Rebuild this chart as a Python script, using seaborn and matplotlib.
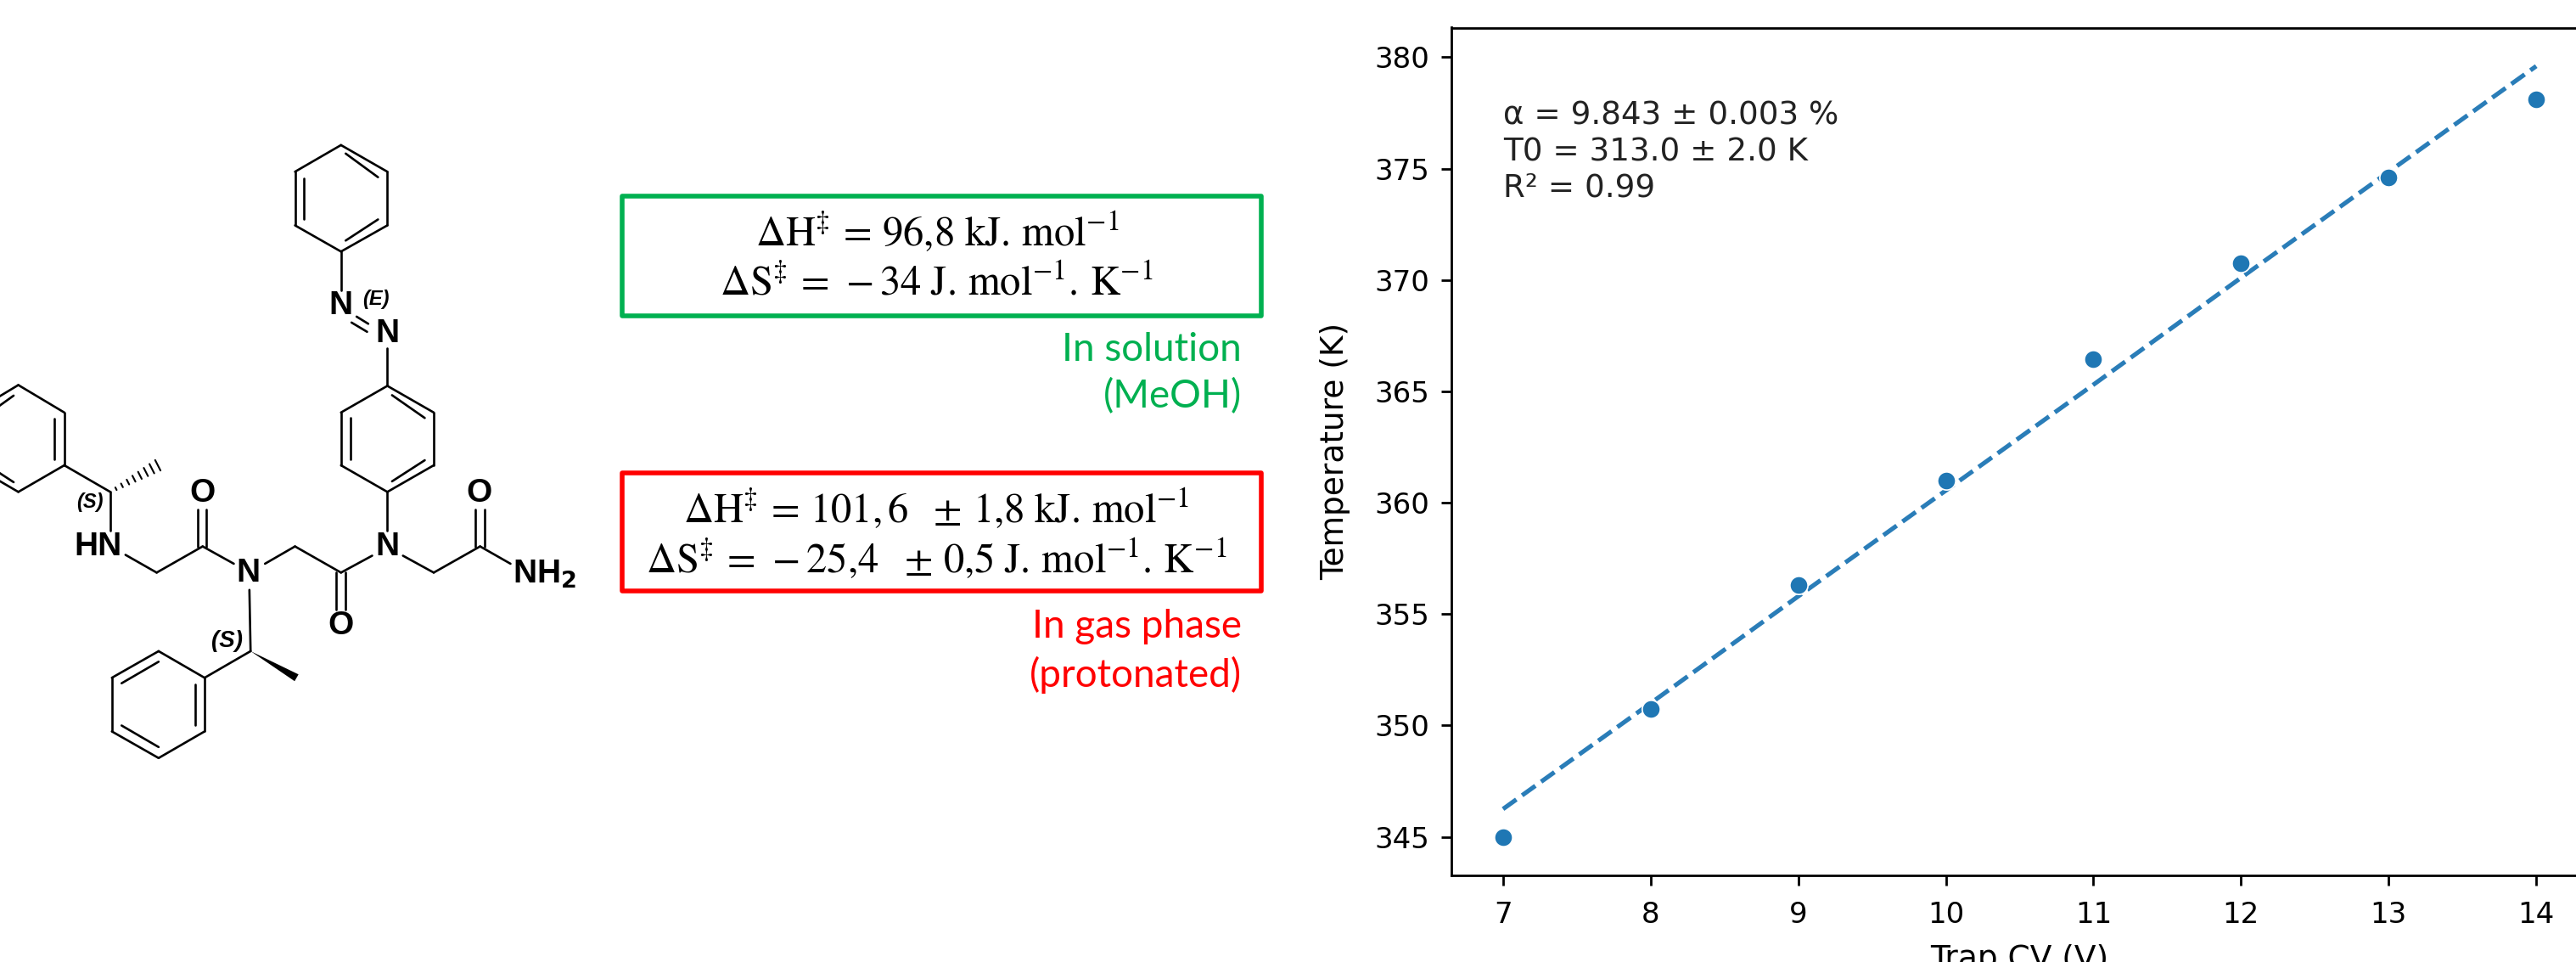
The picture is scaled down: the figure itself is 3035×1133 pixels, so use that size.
import numpy as np
import pandas as pd
import seaborn as sns
import matplotlib.pyplot as plt
from matplotlib.patches import Rectangle, Polygon

# Trap CV (V) vs temperature (K)
trap_cv = [7, 8, 9, 10, 11, 12, 13, 14]
temperature = [345.0, 350.75, 356.3, 361.0, 366.45, 370.75, 374.6, 378.1]
fit_temperature = [346.25, 351.0, 355.8, 360.55, 365.3, 370.1, 374.85, 379.6]
fit_text = 'α = 9.843 ± 0.003 %\nT0 = 313.0 ± 2.0 K\nR² = 0.99'

solution_lines = [r'$\Delta\mathrm{H}^{\ddag}\,=\,96{,}8\ \mathrm{kJ.\,mol}^{-1}$',
                  r'$\Delta\mathrm{S}^{\ddag}\,=\,-34\ \mathrm{J.\,mol}^{-1}\mathrm{.\,K}^{-1}$']
gas_lines = [r'$\Delta\mathrm{H}^{\ddag}\,=\,101{,}\,6\ \ \pm\,1{,}8\ \mathrm{kJ.\,mol}^{-1}$',
             r'$\Delta\mathrm{S}^{\ddag}\,=\,-25{,}4\ \ \pm\,0{,}5\ \mathrm{J.\,mol}^{-1}\mathrm{.\,K}^{-1}$']

# molecule sketch: bonds as x1, y1, x2, y2 (traced in a scaled crop, see to_px)
bonds = [
    (875, 42, 994, 105), (994, 105, 994, 232), (994, 232, 875, 294), (875, 294, 757, 232),
    (757, 232, 757, 105), (757, 105, 875, 42), (887, 62, 970, 118), (970, 218, 887, 268),
    (780, 120, 780, 218), (875, 294, 875, 385), (915, 448, 945, 465), (902, 462, 942, 484),
    (994, 522, 994, 612),
    (994, 612, 1113, 675), (1113, 675, 1113, 800), (1113, 800, 994, 863), (994, 863, 875, 800),
    (875, 800, 875, 675), (875, 675, 994, 612), (1006, 634, 1090, 688), (1090, 788, 1006, 838),
    (900, 688, 900, 786), (994, 863, 994, 955),
    (1034, 1014, 1113, 1054), (1113, 1054, 1232, 992), (1219, 992, 1219, 905), (1243, 992, 1243, 905),
    (1232, 992, 1310, 1033), (955, 1014, 875, 1054), (863, 1054, 863, 1142), (887, 1054, 887, 1142),
    (875, 1054, 757, 992), (757, 992, 680, 1033), (600, 1033, 520, 992), (508, 992, 508, 905),
    (530, 992, 530, 905), (520, 992, 402, 1054), (402, 1054, 322, 1012), (283, 955, 283, 863),
    (283, 863, 165, 800), (165, 800, 165, 675), (165, 675, 47, 610), (47, 610, -70, 675),
    (-70, 800, 47, 863), (47, 863, 165, 800), (140, 690, 140, 786), (35, 635, -48, 690),
    (-48, 790, 35, 840),
    (640, 1095, 643, 1240), (643, 1240, 525, 1303), (525, 1303, 525, 1430), (525, 1430, 407, 1493),
    (407, 1493, 287, 1430), (287, 1430, 287, 1303), (287, 1303, 407, 1240), (407, 1240, 525, 1303),
    (407, 1265, 312, 1316), (500, 1318, 500, 1416), (407, 1467, 312, 1416),
]
atoms = [('N', 875, 422), ('N', 994, 488), ('N', 994, 992), ('O', 1230, 866), ('NH$_\\mathbf{2}$', 1398, 1058),
         ('O', 875, 1180), ('N', 637, 1056), ('O', 519, 866), ('HN', 251, 992)]
stereo = [('(S)', 230, 888, 17), ('(S)', 582, 1217, 20), ('(E)', 965, 407, 17)]


def to_px(x, y):
    return x / 2.178, 150 + y / 2.01


sns.set_theme(style='ticks', rc={'axes.edgecolor': 'black', 'xtick.color': 'black', 'ytick.color': 'black',
                                 'text.color': 'black', 'axes.labelcolor': 'black'})
plt.rcParams['font.family'] = ['DejaVu Sans']
plt.rcParams['mathtext.fontset'] = 'stix'

W, H = 3035, 1133
fig = plt.figure(figsize=(W / 100, H / 100), dpi=100)

# the plot runs past the right edge of the canvas, as in the original
ax = fig.add_axes([1710 / W, 1 - 1031 / H, 1339 / W, 998.5 / H])
df = pd.DataFrame({'cv': trap_cv, 'temp': temperature, 'fit': fit_temperature})
sns.lineplot(data=df, x='cv', y='fit', ax=ax, color='#2a7db8', linestyle='--', linewidth=3.75)
sns.scatterplot(data=df, x='cv', y='temp', ax=ax, color='#1f77b4', s=235, zorder=3)
ax.set_xlabel('Trap CV (V)', fontsize=27, labelpad=13)
ax.set_ylabel('Temperature (K)', fontsize=27, labelpad=20)
ax.tick_params(axis='x', labelsize=24.5, width=2, length=8.75, pad=13)
ax.tick_params(axis='y', labelsize=24.5, width=2, length=8.75, pad=10)
for s in ax.spines.values():
    s.set_linewidth(2)
ax.text(7, 378.1, fit_text, fontsize=26.8, va='top', ha='left', linespacing=1.2, color='#222222')

# overlay in pixel coordinates for the left panels
ov = fig.add_axes([0, 0, 1, 1], facecolor='none')
ov.set_xlim(0, W)
ov.set_ylim(H, 0)
ov.axis('off')

for x1, y1, x2, y2 in bonds:
    a, b = to_px(x1, y1)
    c, d = to_px(x2, y2)
    ov.plot([a, c], [b, d], color='black', lw=1.9, solid_capstyle='round')

# hashed bond and wedge
hx0, hy0 = to_px(283, 863)
hx1, hy1 = to_px(405, 800)
for t in np.linspace(0.12, 1, 8):
    cx, cy = hx0 + (hx1 - hx0) * t, hy0 + (hy1 - hy0) * t
    half = 1 + 6 * t
    ov.plot([cx - half * 0.45, cx + half * 0.45], [cy - half * 0.88, cy + half * 0.88], color='black', lw=1.5)
ov.add_patch(Polygon([to_px(643, 1240), to_px(766, 1295), to_px(756, 1311)], closed=True, color='black', lw=0))

for label, x, y in atoms:
    a, b = to_px(x, y)
    ov.text(a, b, label, family='Liberation Sans', fontweight='bold', fontsize=28, ha='center', va='center',
            math_fontfamily='dejavusans')
for label, x, y, size in stereo:
    a, b = to_px(x, y)
    ov.text(a, b, label, family='Liberation Sans', fontweight='bold', fontstyle='italic', fontsize=size,
            ha='center', va='center')

# enthalpy / entropy boxes
ov.add_patch(Rectangle((733, 231), 753, 141, fill=False, edgecolor='#00B050', lw=4, joinstyle='round'))
ov.add_patch(Rectangle((733, 557), 753, 139, fill=False, edgecolor='#FF0000', lw=4, joinstyle='round'))
ov.text(1104, 274, solution_lines[0], fontsize=35, ha='center', va='center')
ov.text(1103, 333, solution_lines[1], fontsize=35, ha='center', va='center')
ov.text(1103, 600, gas_lines[0], fontsize=35, ha='center', va='center')
ov.text(1103, 659, gas_lines[1], fontsize=35, ha='center', va='center')

for label, y, col in [('In solution', 412, '#00B050'), ('(MeOH)', 467, '#00B050'),
                      ('In gas phase', 738, '#FF0000'), ('(protonated)', 795, '#FF0000')]:
    ov.text(1463, y, label, family='Lato', fontsize=33, color=col, ha='right', va='center')

fig.savefig('out.png', dpi=100)
